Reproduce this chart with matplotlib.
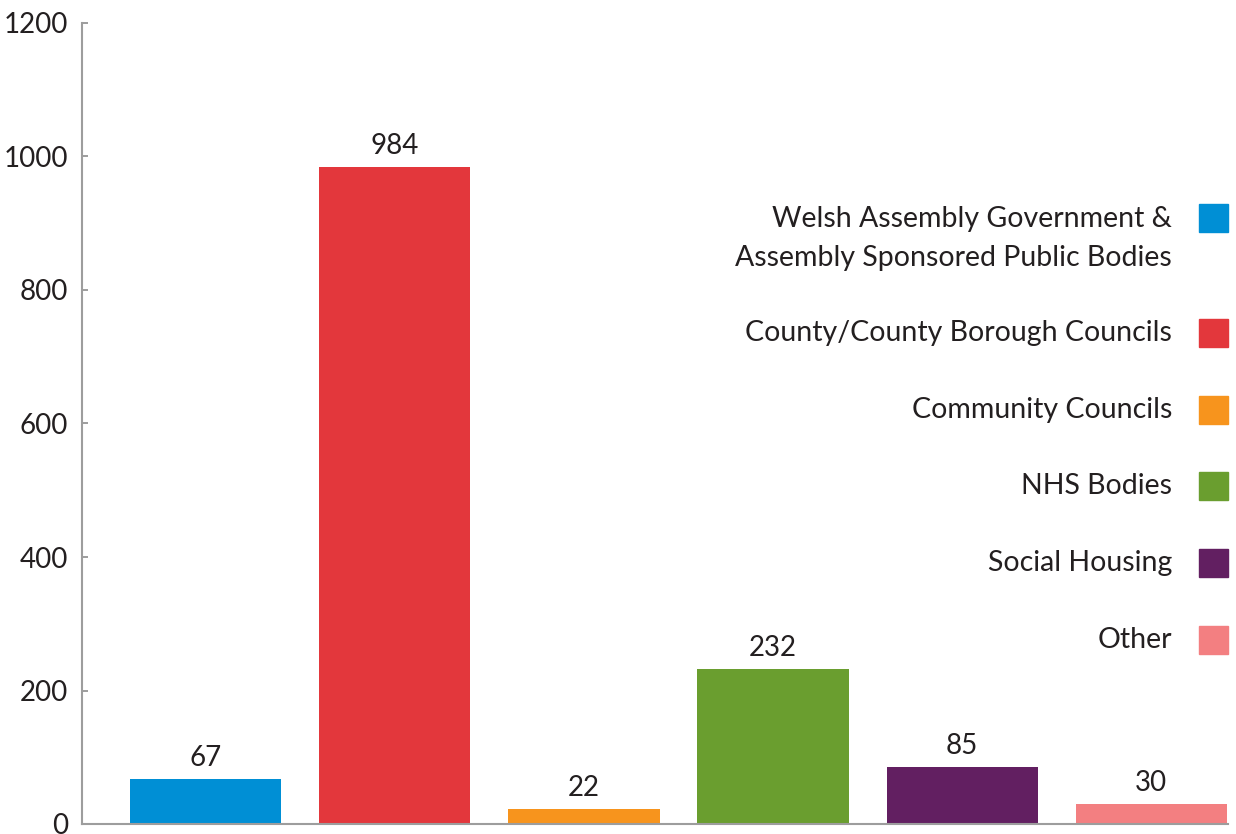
import matplotlib.pyplot as plt
from matplotlib.patches import Rectangle

# Complaints received by sector
categories = [
    'Welsh Assembly Government &\nAssembly Sponsored Public Bodies',
    'County/County Borough Councils',
    'Community Councils',
    'NHS Bodies',
    'Social Housing',
    'Other',
]
values = [67, 984, 22, 232, 85, 30]
colors = ['#008fd5', '#e3373c', '#f7941d', '#6a9e2f', '#621f61', '#f37f81']
yticks = [0, 200, 400, 600, 800, 1000, 1200]

TEXT = '#231f20'
SPINE = '#9d9d9d'
FS = 20
plt.rcParams['font.family'] = ['Lato', 'DejaVu Sans']

fig = plt.figure(figsize=(12.36, 8.34), dpi=100)
ax = fig.add_axes([82 / 1236, 10 / 834, (1228 - 82) / 1236, 801 / 834])

x = range(len(values))
bars = ax.bar(x, values, width=0.8, color=colors)
for b, v in zip(bars, values):
    ax.annotate(str(v), (b.get_x() + b.get_width() / 2, v), xytext=(0, 6),
                textcoords='offset points', ha='center', va='bottom',
                fontsize=FS, color=TEXT)

ax.set_xlim(-0.653, 5.405)
ax.set_ylim(0, 1200)
ax.set_yticks(yticks)
ax.set_xticks([])
ax.tick_params(axis='y', direction='in', length=4.5, width=1.4, color=SPINE,
               pad=10, labelsize=FS, labelcolor=TEXT)
for s in ['top', 'right']:
    ax.spines[s].set_visible(False)
for s in ['left', 'bottom']:
    ax.spines[s].set_color(SPINE)
    ax.spines[s].set_linewidth(1.5)

# Hand-placed legend: right-aligned labels with a square key to their right
row_y = [218, 333, 410, 486, 563, 640]
for name, c, py in zip(categories, colors, row_y):
    yf = 1 - py / 834
    if '\n' in name:
        fig.text(1172 / 1236, yf + 12 / 834, name, ha='right', va='top',
                 fontsize=20.5, color=TEXT, linespacing=1.6)
    else:
        fig.text(1172 / 1236, yf, name, ha='right', va='center',
                 fontsize=20.5, color=TEXT)
    fig.patches.append(Rectangle((1199 / 1236, yf - 14 / 834), 29 / 1236, 28 / 834,
                                 color=c, transform=fig.transFigure, figure=fig))

fig.savefig('out.png', dpi=100)
